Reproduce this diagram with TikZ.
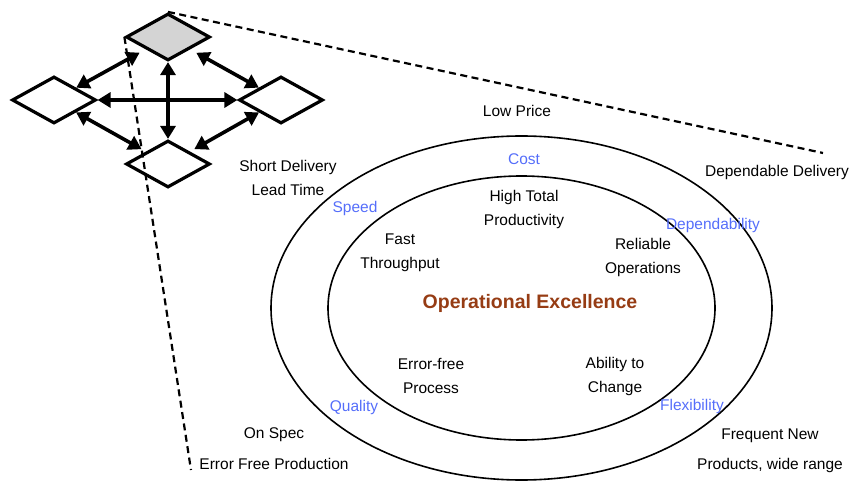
\documentclass[tikz,border=0pt]{standalone}
\usepackage{fontspec}
\setmainfont{Liberation Sans}
\usetikzlibrary{shapes.geometric,arrows.meta}

\definecolor{perfblue}{RGB}{85,110,250}
\definecolor{excbrown}{RGB}{150,60,20}

\begin{document}
\begin{tikzpicture}[x=1pt,y=-1pt]
                \tikzset{Cube/.style= {shape=diamond, draw, line width=3.2pt,
                        minimum width=84pt, minimum height=47pt, inner sep=0pt},
                        TwoWay/.style= {line width=3.6pt,
                        {Triangle[length=13pt,width=15pt]}-{Triangle[length=13pt,width=15pt]}},
                        Zoom/.style= {line width=2.2pt, dash pattern=on 7pt off 4.5pt},
                        Objective/.style= {text=perfblue, font=\fontsize{15.5}{17}\selectfont},
                        Outcome/.style= {align=center, font=\fontsize{15.5}{24}\selectfont}}
                \useasboundingbox (0,0) rectangle (849,481);
                % the five operations
                \node[Cube, fill=black!17] (top) at (168,37) {};
                \node[Cube] (left) at (54,100) {};
                \node[Cube] (right) at (281,100) {};
                \node[Cube] (bottom) at (168,164) {};
                \draw[TwoWay] (top) -- (bottom);
                \draw[TwoWay] (left) -- (right);
                \draw[TwoWay, shorten <=7pt] (top) -- (left);
                \draw[TwoWay, shorten <=7pt] (top) -- (right);
                \draw[TwoWay, shorten >=5pt] (left) -- (bottom);
                \draw[TwoWay, shorten >=5pt] (right) -- (bottom);
                % zoom lines
                \coordinate (zoomA) at (823,153);
                \coordinate (zoomB) at (191,470);
                \draw[Zoom] (top.north) -- (zoomA);
                \draw[Zoom] (top.west) -- (zoomB);
                % rings
                \draw[line width=1.6pt] (521.5,308) ellipse [x radius=250.5, y radius=172];
                \draw[line width=1.6pt] (521.5,308) ellipse [x radius=193.5, y radius=132];
                \node[text=excbrown, font=\fontsize{19.5}{24}\bfseries] (core) at (530,303) {Operational Excellence};
                % performance objectives
                \node[Objective] (cost) at (524,159) {Cost};
                \node[Objective] (speed) at (355,208) {Speed};
                \node[Objective] (dep) at (713,225) {Dependability};
                \node[Objective] (qual) at (354,407) {Quality};
                \node[Objective] (flex) at (692,406) {Flexibility};
                % internal benefits
                \node[Outcome] (prod) at (524,209) {High Total\\Productivity};
                \node[Outcome] (fast) at (400,253) {Fast\\Throughput};
                \node[Outcome] (rel) at (643,257) {Reliable\\Operations};
                \node[Outcome] (errp) at (431,376) {Error-free\\Process};
                \node[Outcome] (chg) at (615,376) {Ability to\\Change};
                % external benefits
                \node[Outcome] (price) at (517,111) {Low Price};
                \node[Outcome] (short) at (288,178) {Short Delivery\\Lead Time};
                \node[Outcome] (depdel) at (777,172) {Dependable Delivery};
                \node[Outcome, font=\fontsize{15.5}{31}\selectfont] (spec) at (274,449) {On Spec\\Error Free Production};
                \node[Outcome, font=\fontsize{15.5}{30}\selectfont] (newp) at (770,451) {Frequent New\\Products, wide range};

            \end{tikzpicture}
\end{document}
